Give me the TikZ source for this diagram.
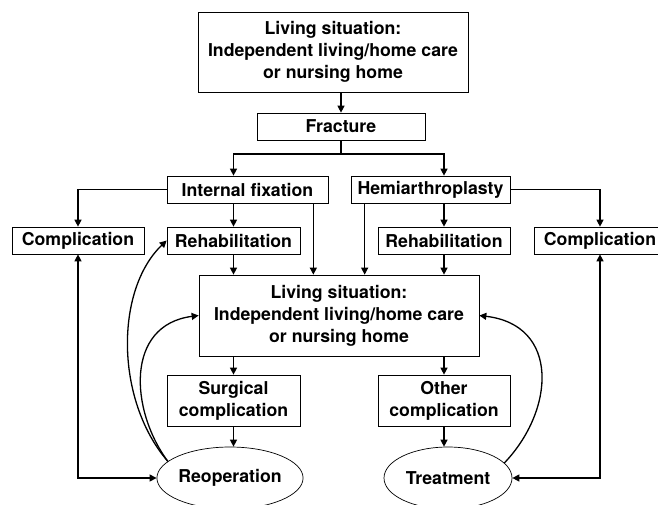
\documentclass[tikz,border=0pt]{standalone}
\usepackage{fontspec}
\setmainfont{TeX Gyre Heros}
\usetikzlibrary{arrows.meta,shapes.geometric}
\begin{document}
\begin{tikzpicture}[
            x=1pt, y=-1pt,
            >={Triangle[length=7pt,width=7pt]},
            every node/.style={
                draw,
                inner sep=0pt,
                align=center,
                line width=0.7pt,
                font=\fontsize{17.7}{22}\selectfont\bfseries
            },
            box/.style={rectangle},
            oval/.style={ellipse},
            link/.style={->, line width=1.3pt},
            both/.style={<->, line width=1.3pt}
        ]
            \useasboundingbox (0,0) rectangle (658,504);

            \node[box, minimum width=270pt, minimum height=80pt] (home) at (333,52)
                {Living situation:\\Independent living/home care\\or nursing home};
            \node[box, minimum width=168pt, minimum height=27pt] (frac) at (341,126.5) {Fracture};
            \node[box, minimum width=161pt, minimum height=27pt] (ifix) at (247.5,189.5) {Internal fixation};
            \node[box, minimum width=159pt, minimum height=27pt] (hemi) at (430.5,189.5) {Hemiarthroplasty};
            \node[box, minimum width=132pt, minimum height=27pt] (compL) at (78,240.5) {Complication};
            \node[box, minimum width=133pt, minimum height=27pt] (rehabL) at (233.5,240.5) {Rehabilitation};
            \node[box, minimum width=132pt, minimum height=27pt] (rehabR) at (444,240.5) {Rehabilitation};
            \node[box, minimum width=132pt, minimum height=27pt] (compR) at (600,240.5) {Complication};
            \node[box, minimum width=280pt, minimum height=81pt] (living) at (339,315.5)
                {Living situation:\\Independent living/home care\\or nursing home};
            \node[box, minimum width=133pt, minimum height=51pt] (surg) at (233.5,400.5) {Surgical\\complication};
            \node[box, minimum width=132pt, minimum height=51pt] (other) at (444,400.5) {Other\\complication};
            \node[oval, minimum width=126pt, minimum height=62pt] (reop) at (230,478) {Reoperation};
            \node[oval, minimum width=128pt, minimum height=62pt] (treat) at (448,478) {Treatment};

            % split below the fracture box
            \coordinate (split) at (341,154);
            \draw[line width=1.3pt] (frac.south) -- (split);
            \draw[link] (split) -| (rehabL|-ifix.north);
            \draw[link] (split) -| (rehabR|-hemi.north);

            \draw[link] (ifix.west) -| (compL.north);
            \draw[link] (rehabL|-ifix.south) -- (rehabL.north);
            \path ([xshift=-15pt]ifix.south east) coordinate (ifixR);
            \draw[link] (ifixR) -- (ifixR|-living.north);

            \draw[link] (hemi.east) -| (compR.north);
            \draw[link] (rehabR|-hemi.south) -- (rehabR.north);
            \path ([xshift=14pt]hemi.south west) coordinate (hemiL);
            \draw[link] (hemiL) -- (hemiL|-living.north);

            \draw[link] (rehabL.south) -- (rehabL.south|-living.north);
            \draw[link] (rehabR.south) -- (rehabR.south|-living.north);
            \draw[link] (home.south-|frac.north) -- (frac.north);

            \draw[link] (surg|-living.south) -- (surg.north);
            \draw[link] (other|-living.south) -- (other.north);
            \draw[link] (surg.south) -- (surg.south|-reop.north);
            \draw[link] (other.south) -- (other.south|-treat.north);

            % loops back up
            \draw[both] (compL.south) |- (reop.west);
            \draw[both] (compR.south) |- (treat.east);
            \draw[link] (reop.165) .. controls (115,400) and (115,290) .. (rehabL.west);
            \draw[link] (reop.165) .. controls (130,410) and (125,325) .. (living.west);
            \draw[link] (treat.15) .. controls (555,410) and (560,325) .. (living.east);
        \end{tikzpicture}
\end{document}
